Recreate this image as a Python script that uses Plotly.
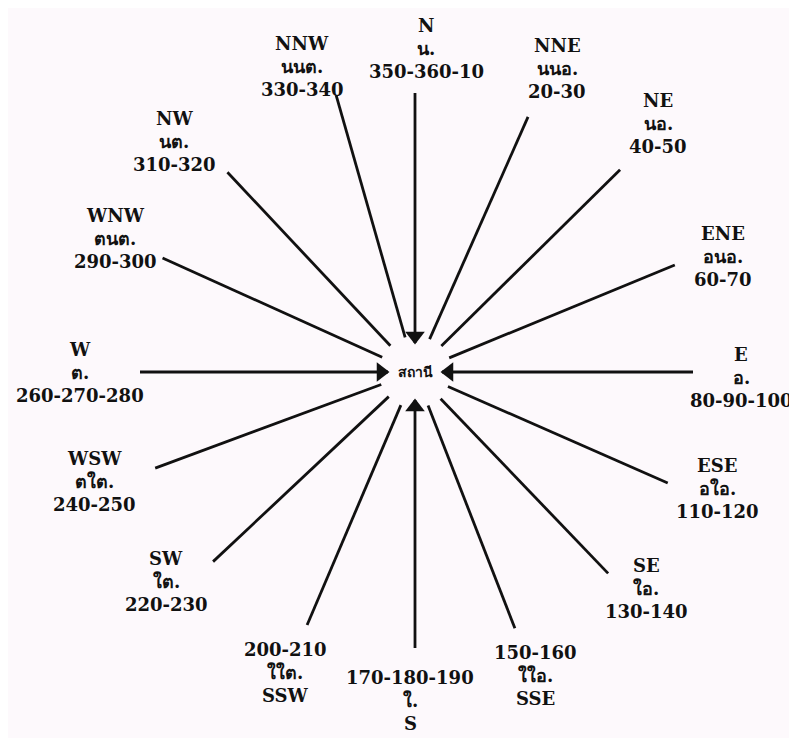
import numpy as np
import plotly.graph_objects as go

# ---- data ----
directions = ["N", "NNE", "NE", "ENE", "E", "ESE", "SE", "SSE",
              "S", "SSW", "SW", "WSW", "W", "WNW", "NW", "NNW"]
thai_abbr = ["น.", "นนอ.", "นอ.", "อนอ.", "อ.", "อใอ.", "ใอ.", "ใใอ.",
             "ใ.", "ใใต.", "ใต.", "ตใต.", "ต.", "ตนต.", "นต.", "นนต."]
degree_ranges = ["350-360-10", "20-30", "40-50", "60-70", "80-90-100", "110-120",
                 "130-140", "150-160", "170-180-190", "200-210", "220-230",
                 "240-250", "260-270-280", "290-300", "310-320", "330-340"]
bearing_deg = [0, 23.9, 45.4, 67.6, 90, 113.7, 136.2, 158.7,
               180, 203.1, 226.8, 249.7, 270, 294.3, 316.8, 344.1]
outer_r = [279, 279, 288, 281, 278, 276, 279, 275,
           276, 275, 277, 277, 275, 277, 274, 288]
inner_r = [29, 36, 37, 37, 27, 36, 37, 36,
           28, 36, 36, 36, 27, 36, 36, 36]
has_arrow = [True, False, False, False, True, False, False, False,
             True, False, False, False, True, False, False, False]
center_label = "สถานี"

# ---- layout (label block centres relative to the rose centre) ----
label_pos = [(11, 324), (142, 304), (243, 249), (308, 116), (326, -5), (302, -116),
             (231, -216), (120, -303), (-5, -328), (-130, -300), (-249, -209),
             (-321, -109), (-335, 0), (-300, 134), (-241, 231), (-113, 306)]
row_gap = 23
reverse_order = {"S", "SSW", "SSE"}

fig = go.Figure()

b = np.radians(bearing_deg)
xs, ys = [], []
for bi, ri, ro in zip(b, inner_r, outer_r):
    xs += [ri * np.sin(bi), ro * np.sin(bi), None]
    ys += [ri * np.cos(bi), ro * np.cos(bi), None]
fig.add_trace(go.Scatter(x=xs, y=ys, mode="lines",
                         line=dict(color="#111111", width=2.8),
                         hoverinfo="skip", showlegend=False))

ax_, ay_, ang = [], [], []
for bi, bd, ri, ha in zip(b, bearing_deg, inner_r, has_arrow):
    if ha:
        r = ri + 7
        ax_.append(r * np.sin(bi))
        ay_.append(r * np.cos(bi))
        ang.append(bd + 180)
fig.add_trace(go.Scatter(x=ax_, y=ay_, mode="markers",
                         marker=dict(symbol="triangle-up", size=17, angle=ang,
                                     color="#111111", line=dict(width=0)),
                         hoverinfo="skip", showlegend=False))

font = dict(family="DejaVu Serif, Noto Sans", size=18, color="#111111")
for d, t, g, (lx, ly) in zip(directions, thai_abbr, degree_ranges, label_pos):
    rows = [g, t, d] if d in reverse_order else [d, t, g]
    for k, txt in enumerate(rows):
        fig.add_annotation(x=lx, y=ly + row_gap * (1 - k), text=f"<b>{txt}</b>",
                           showarrow=False, xanchor="center", yanchor="middle",
                           font=font)

fig.add_annotation(x=0, y=0, text=f"<b>{center_label}</b>", showarrow=False,
                   font=dict(family="DejaVu Serif, Noto Sans", size=14, color="#111111"))

# ranges offset by the page's 8px body margin so the rose lands where the reference has it
fig.update_xaxes(range=[-407, 390], visible=False, fixedrange=True)
fig.update_yaxes(range=[-374, 364], visible=False, fixedrange=True)
fig.update_layout(width=797, height=738, margin=dict(l=0, r=0, t=0, b=0),
                  paper_bgcolor="#fdf9fc", plot_bgcolor="#fdf9fc")

fig.write_html("out.html")
